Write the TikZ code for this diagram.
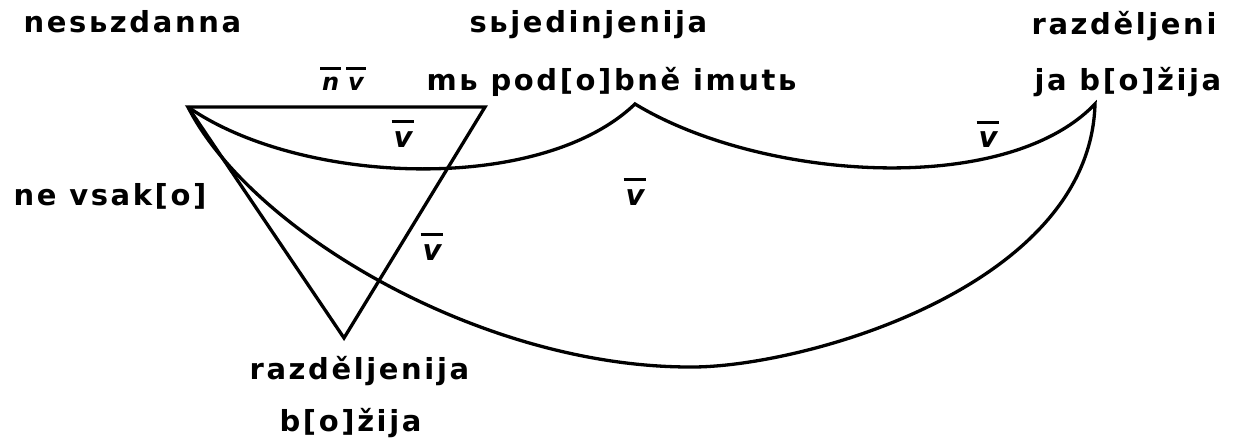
\documentclass[tikz,border=0pt]{standalone}
\usepackage{fontspec}
\newfontfamily\lab[LetterSpace=9]{DejaVu Sans}
\newfontfamily\vfont{DejaVu Sans}
\newcommand\ovl[1]{\setbox0=\hbox{#1}\vbox{\offinterlineskip\hbox to \wd0{\hss\vrule width \dimexpr\wd0+4pt\relax height 3pt depth 0pt\hss}\kern 8pt\box0}}
\begin{document}
\begin{tikzpicture}[x=1pt,y=-1pt,line width=3.3pt,line join=miter,
  lbl/.style={inner sep=0pt,anchor=base west,font=\lab\bfseries\fontsize{29}{34}\selectfont},
  vb/.style={inner sep=0pt,anchor=base,font=\vfont\bfseries\itshape\fontsize{29}{34}\selectfont},
  nvb/.style={inner sep=0pt,anchor=base,font=\vfont\bfseries\itshape\fontsize{24}{28}\selectfont}]
\useasboundingbox (0,0) rectangle (1237,441);
\coordinate (A) at (188,107);
\coordinate (B) at (485,107);
\coordinate (C) at (344,338);
\coordinate (P) at (635,104);
\coordinate (Q) at (1095,104);
\coordinate (M) at (690,367);
\draw (A) -- (B) -- (C) -- cycle;
\draw (A) .. controls (300,185) and (540,195) .. (P)
          .. controls (760,180) and (1005,198) .. (Q)
          .. controls (1090,288) and (800,368) .. (M)
          .. controls (480,367) and (250,230) .. (A);
\node[lbl] (t1) at (22,33) {nesьzdanna};
\node[lbl] (t2) at (468,33) {sьjedinjenija};
\node[lbl] (t3) at (1030,35) {razděljeni};
\node[lbl] (t4) at (425,91) {mь pod[o]bně imutь};
\node[lbl] (t5) at (1033,91) {ja b[o]žija};
\node[lbl] (t6) at (12,205) {ne vsak[o]};
\node[lbl] (t7) at (248,379) {razděljenija};
\node[lbl] (t8) at (278,431) {b[o]žija};
\node[nvb] (nv) at (343,91) {\ovl{n}\kern9pt\ovl{v}};
\node[vb] (v1) at (403,147) {\ovl{v}};
\node[vb] (v2) at (988,148) {\ovl{v}};
\node[vb] (v3) at (635,205) {\ovl{v}};
\node[vb] (v4) at (432,260) {\ovl{v}};
\end{tikzpicture}
\end{document}
